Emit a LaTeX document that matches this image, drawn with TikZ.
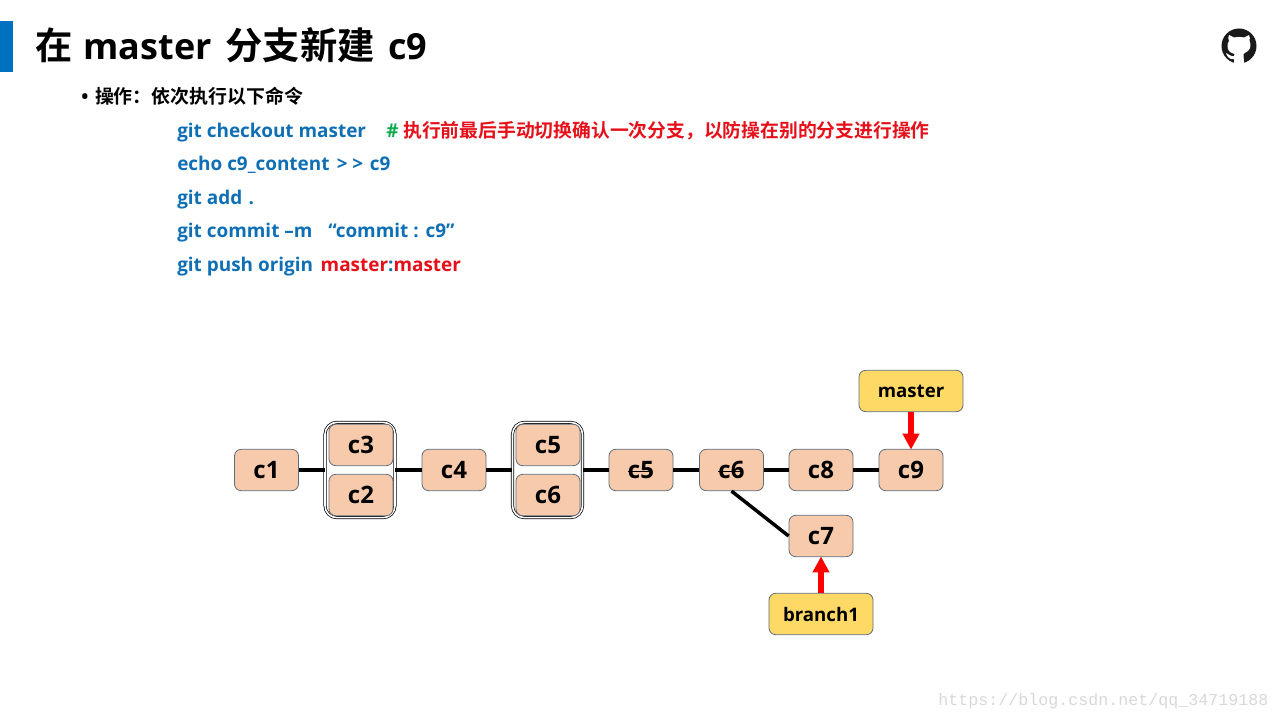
\documentclass[tikz,border=0pt]{standalone}
\usepackage{fontspec}
\setmainfont{Open Sans}[BoldFont={Open Sans Bold}]
\setmonofont{Liberation Mono}
\newfontfamily\cjk{Noto Sans CJK SC}[BoldFont={Noto Sans CJK SC Bold}]
\usetikzlibrary{arrows.meta}
\definecolor{cmdblue}{HTML}{0F6FB5}
\definecolor{barblue}{HTML}{0070C0}
\definecolor{boxfill}{HTML}{F6CAAB}
\definecolor{boxline}{HTML}{5F6B78}
\definecolor{tagfill}{HTML}{FFD966}
\definecolor{redtext}{HTML}{E5101A}
\definecolor{greentext}{HTML}{10A850}
\definecolor{marktext}{HTML}{D8D8D8}
\newcommand{\strk}[1]{\rlap{\rule[0.27em]{0.95em}{1.1pt}}#1}
\tikzset{
  commit/.style={draw=boxline,fill=boxfill,rounded corners=5pt,line width=0.6pt,
    minimum width=48pt,minimum height=31pt,inner sep=0pt,font=\bfseries\fontsize{18}{20}\selectfont},
  tagbox/.style={commit,fill=tagfill,minimum width=78pt,font=\bfseries\fontsize{14}{16}\selectfont},
  groupbox/.style={draw=black,fill=white,rounded corners=9pt,double=white,double distance=1.2pt,
    line width=0.55pt,minimum width=52.5pt,minimum height=71.5pt,inner sep=0pt},
  link/.style={line width=3pt},
  moved/.style={draw=red,line width=5.2pt,-{Triangle[length=12pt,width=12pt]},shorten >=-0.5pt},
  cmdline/.style={anchor=base west,inner sep=0pt,text=cmdblue,font=\bfseries\fontsize{14.2}{16}\selectfont}
}
\begin{document}
\begin{tikzpicture}[x=0.75pt,y=-0.75pt]
    \useasboundingbox (0,0) rectangle (1280,720);
    % title
    \fill[barblue] (0,21) rectangle (13,72);
    \node[anchor=base west,inner sep=0pt,font=\bfseries\fontsize{27}{30}\selectfont] (title) at (35,60)
        {{\cjk\fontsize{28}{30}\selectfont 在}\kern8.2pt master\kern10.2pt{\cjk\fontsize{28}{30}\selectfont 分支新建}\kern10.2pt c9};
    % github mark
    \fill[black!90] (1239,46) circle (17.5);
    \fill[white] (1229,35) -- (1234,37.5) .. controls (1237,36.8) and (1241,36.8) .. (1244,37.5)
        -- (1249,35) .. controls (1250,37) and (1250,39) .. (1249.5,41)
        .. controls (1251,44) and (1251,48) .. (1248,51)
        .. controls (1246,52.5) and (1244,53) .. (1243.5,54) -- (1244,64) -- (1234,64) -- (1234,59)
        .. controls (1230,60) and (1227,57) .. (1226,53) .. controls (1229,54) and (1231,57) .. (1234,56)
        -- (1234.5,54) .. controls (1232,53) and (1230,52.5) .. (1229,51)
        .. controls (1227,48) and (1227,44) .. (1229,41) .. controls (1228,39) and (1228,37) .. (1229,35) -- cycle;
    % commands
    \node[anchor=base west,inner sep=0pt,font=\fontsize{14.2}{16}\selectfont\bfseries] (intro) at (81,104)
        {\textbullet\kern5pt{\cjk 操作：依次执行以下命令}};
    \node[cmdline] (cmdA) at (177,138) {git checkout master};
    \node[cmdline,text=greentext] (hash) at (386,138) {\#};
    \node[cmdline,text=redtext] (note) at (403,138) {\cjk\fontsize{14.1}{16}\selectfont 执行前最后手动切换确认一次分支，以防操在别的分支进行操作};
    \node[cmdline] (cmdB) at (177,171) {echo c9\_content\kern5.5pt>\kern3.5pt>\kern5pt c9};
    \node[cmdline] (cmdC) at (177,205) {git add\kern1pt\ .};
    \node[cmdline] (cmdD) at (177,238) {git commit –m\kern12pt “commit :\kern1.5pt\ c9”};
    \node[cmdline] (cmdE) at (177,272) {git push origin\kern2pt\ \textcolor{redtext}{master}:\textcolor{redtext}{master}};
    % commits
    \node[groupbox] (groupA) at (360,470) {};
    \node[groupbox] (groupB) at (547.5,470) {};
    \node[commit] (c1) at (266.5,470) {c1};
    \node[commit] (c3) at (361,445) {c3};
    \node[commit] (c2) at (361,495) {c2};
    \node[commit] (c4) at (454,470) {c4};
    \node[commit] (c5) at (548,445) {c5};
    \node[commit] (c6) at (548,495) {c6};
    \node[commit] (c5x) at (641,470) {\strk{c5}};
    \node[commit] (c6x) at (731.5,470) {\strk{c6}};
    \node[commit] (c8) at (821,470) {c8};
    \node[commit] (c9) at (911,470) {c9};
    \node[commit] (c7) at (821,536) {c7};
    \node[tagbox] (master) at (911,391) {master};
    \node[tagbox] (branch) at (821,614) {branch1};
    % links
    \draw[link] (c1) -- (groupA);
    \draw[link] (groupA) -- (c4);
    \draw[link] (c4) -- (groupB);
    \draw[link] (groupB) -- (c5x);
    \draw[link] (c5x) -- (c6x);
    \draw[link] (c6x) -- (c8);
    \draw[link] (c8) -- (c9);
    \draw[line width=2.6pt] (c6x.south) -- (c7.west);
    \draw[moved] (master) -- (c9);
    \draw[moved] (branch) -- (c7);
    % watermark
    \node[anchor=base west,inner sep=0pt,text=marktext,font=\ttfamily\fontsize{12.5}{14}\selectfont] (mark) at (938,705)
        {https://blog.csdn.net/qq\_34719188};
\end{tikzpicture}
\end{document}
